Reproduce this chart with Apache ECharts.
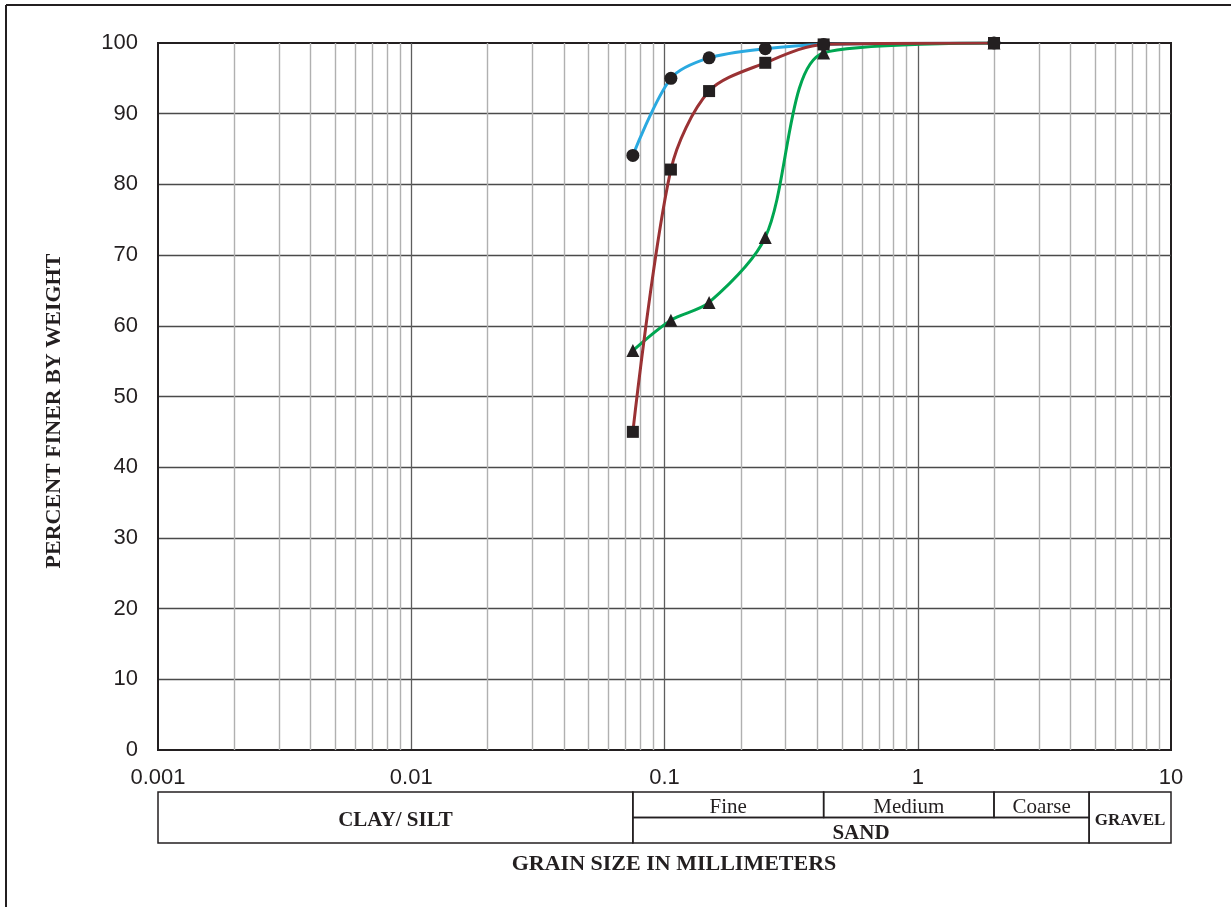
<!DOCTYPE html>
<html>
<head>
<meta charset="utf-8">
<title>Grain Size Distribution</title>
<script src="https://cdn.jsdelivr.net/npm/echarts@6/dist/echarts.min.js"></script>
<style>
  html, body { margin: 0; padding: 0; background: #ffffff; }
  #chart { width: 1231px; height: 907px; }
</style>
</head>
<body>
<div id="chart"></div>
<script>
// Sieve sizes (mm)
const sieveSizes = [0.075, 0.106, 0.15, 0.25, 0.425, 2];

// Percent finer by weight for each sample
const sampleBlue  = [84.1, 95.0, 97.9, 99.2, 99.8, 100];
const sampleGreen = [56.5, 60.8, 63.3, 72.5, 98.6, 100];
const sampleBrown = [45.0, 82.1, 93.2, 97.2, 99.8, 100];

// Axis tick labels
const xTickLabels = ['0.001', '0.01', '0.1', '1', '10'];
const yTicks = [0, 10, 20, 30, 40, 50, 60, 70, 80, 90, 100];

// Soil classification bands (mm)
const bandNames = ['CLAY/ SILT', 'Fine', 'Medium', 'Coarse', 'SAND', 'GRAVEL'];
const bandFrom  = [0.001, 0.075, 0.425, 2, 0.075, 4.75];
const bandTo    = [0.075, 0.425, 2, 4.75, 4.75, 10];
const bandLevel = ['full', 'upper', 'upper', 'upper', 'lower', 'full'];
const bandBold  = [true, false, false, false, true, true];

// Minor log gridlines: multiples 2..9 of each decade
const decades = [0.001, 0.01, 0.1, 1];
const multiples = [2, 3, 4, 5, 6, 7, 8, 9];
const minorLines = [];
decades.forEach(d => multiples.forEach(m => minorLines.push(+(d * m).toPrecision(3))));

const pairs = ys => sieveSizes.map((x, i) => [x, ys[i]]);

const ink = '#231f20';
const sansFont = '"Liberation Sans", Arial, sans-serif';
const serifFont = '"Liberation Serif", "Times New Roman", serif';

const chart = echarts.init(document.getElementById('chart'), null, { renderer: 'canvas' });

const lineSeries = (name, ys, color, symbol, size) => ({
  name,
  type: 'line',
  xAxisIndex: 0,
  yAxisIndex: 0,
  data: pairs(ys),
  smooth: 0.3,
  symbol,
  symbolSize: size,
  showSymbol: true,
  z: 3,
  lineStyle: { color, width: 3 },
  itemStyle: { color: ink, borderWidth: 0 },
  emphasis: { disabled: true },
  animation: false
});

chart.setOption({
  animation: false,
  backgroundColor: '#ffffff',
  grid: [
    {
      left: 158, right: 60, top: 43, bottom: 157,
      show: true, borderColor: ink, borderWidth: 2, backgroundColor: 'transparent'
    },
    { left: 158, right: 60, top: 792, height: 51, show: false }
  ],
  xAxis: [
    {
      type: 'log', logBase: 10, min: 0.001, max: 10, gridIndex: 0,
      axisLine: { show: true, onZero: false, lineStyle: { color: ink, width: 2 } },
      axisTick: { show: false },
      axisLabel: {
        color: ink, fontSize: 22, fontFamily: sansFont, margin: 17,
        formatter: (v, i) => xTickLabels[i]
      },
      splitLine: { show: true, showMinLine: false, showMaxLine: false, lineStyle: { color: '#5e5e5e', width: 1.3 } }
    },
    {
      type: 'log', logBase: 10, min: 0.001, max: 10, gridIndex: 1, show: false
    }
  ],
  yAxis: [
    {
      type: 'value', min: 0, max: 100, interval: 10, gridIndex: 0,
      axisLine: { show: true, lineStyle: { color: ink, width: 2 } },
      axisTick: { show: false },
      axisLabel: { color: ink, fontSize: 22, fontFamily: sansFont, margin: 20, padding: [4, 0, 0, 0] },
      splitLine: { show: true, showMinLine: false, showMaxLine: false, lineStyle: { color: '#4a4a4a', width: 1.3 } }
    },
    { type: 'value', min: 0, max: 2, gridIndex: 1, show: false }
  ],
  graphic: [
    { type: 'line', shape: { x1: 6, y1: 5, x2: 1231, y2: 5 }, style: { stroke: ink, lineWidth: 2 } },
    { type: 'line', shape: { x1: 6, y1: 5, x2: 6, y2: 907 }, style: { stroke: ink, lineWidth: 2 } },
    {
      type: 'text', x: 54, y: 411, rotation: Math.PI / 2,
      style: {
        text: 'PERCENT FINER BY WEIGHT', fill: ink,
        font: 'bold 22px ' + serifFont, textAlign: 'center', textVerticalAlign: 'middle'
      }
    },
    {
      type: 'text', x: 674, y: 864,
      style: {
        text: 'GRAIN SIZE IN MILLIMETERS', fill: ink,
        font: 'bold 22px ' + serifFont, textAlign: 'center', textVerticalAlign: 'middle'
      }
    }
  ],
  series: [
    {
      type: 'custom',
      xAxisIndex: 0, yAxisIndex: 0,
      data: minorLines.map(v => [v]),
      z: 1, silent: true,
      renderItem: (params, api) => {
        const v = api.value(0);
        const p0 = api.coord([v, 0]);
        const p1 = api.coord([v, 100]);
        return {
          type: 'line',
          shape: { x1: Math.round(p0[0]) + 0.5, y1: p0[1], x2: Math.round(p1[0]) + 0.5, y2: p1[1] },
          style: { stroke: '#b0b0b0', lineWidth: 1.4 }
        };
      }
    },
    lineSeries('Sample A', sampleBlue, '#2aa9e0', 'circle', 13),
    lineSeries('Sample C', sampleGreen, '#00a651', 'triangle', 13),
    lineSeries('Sample B', sampleBrown, '#9a3234', 'rect', 12),
    {
      type: 'custom',
      xAxisIndex: 1, yAxisIndex: 1,
      data: bandNames.map((n, i) => [bandFrom[i], bandTo[i], i]),
      silent: true, z: 2,
      renderItem: (params, api) => {
        const i = api.value(2);
        const lvl = bandLevel[i];
        const yTop = lvl === 'lower' ? 1 : 2;
        const yBot = lvl === 'upper' ? 1 : 0;
        const a = api.coord([api.value(0), yTop]);
        const b = api.coord([api.value(1), yBot]);
        const name = bandNames[i];
        const size = name === 'GRAVEL' ? 17 : 21;
        return {
          type: 'group',
          children: [
            {
              type: 'rect',
              shape: { x: a[0], y: a[1], width: b[0] - a[0], height: b[1] - a[1] },
              style: { fill: 'transparent', stroke: ink, lineWidth: 1.5 }
            },
            {
              type: 'text',
              x: (a[0] + b[0]) / 2, y: (a[1] + b[1]) / 2 + 3,
              style: {
                text: name, fill: ink,
                font: (bandBold[i] ? 'bold ' : '') + size + 'px ' + serifFont,
                textAlign: 'center', textVerticalAlign: 'middle'
              }
            }
          ]
        };
      }
    }
  ]
});
</script>
</body>
</html>
